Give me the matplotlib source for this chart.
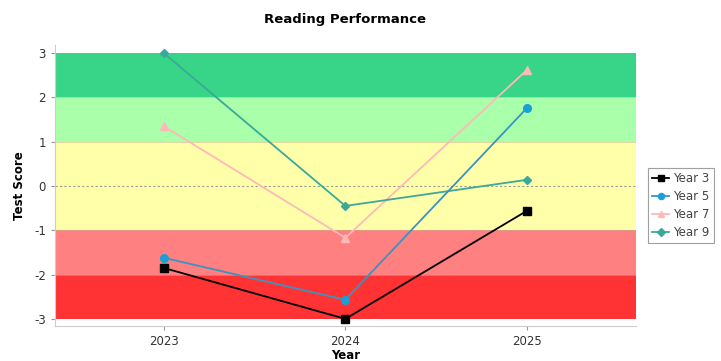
import matplotlib.pyplot as plt
import numpy as np

plt.rcParams["axes.unicode_minus"] = False

years = ["2023", "2024", "2025"]
year3 = [-1.85, -3.0, -0.56]
year5 = [-1.62, -2.57, 1.76]
year7 = [1.35, -1.17, 2.62]
year9 = [3.0, -0.45, 0.14]

# performance bands (low, high, colour)
bands = [(2, 3, "#38d487"), (1, 2, "#aaffaa"), (-1, 1, "#ffffaa"),
         (-2, -1, "#ff8080"), (-3, -2, "#ff3333")]

fig = plt.figure(figsize=(7.21, 3.61), dpi=100)
ax = fig.add_axes([0.076, 0.097, 0.806, 0.778])

for lo, hi, col in bands:
    ax.axhspan(lo, hi, color=col, lw=0, zorder=0)
for y in [2, 1, -1, -2]:
    ax.axhline(y, color="#c8b090", lw=0.6, alpha=0.6, zorder=0.5)
ax.axhline(0, color="#999999", lw=0.8, ls=(0, (2, 2)), zorder=0.6)

x = np.arange(len(years))
ax.plot(x, year3, color="black", marker="s", ms=5.5, lw=1.3, label="Year 3", zorder=3)
ax.plot(x, year5, color="#3a93c0", marker="o", ms=5.5, mfc="#1a9fd6", mec="#1a9fd6",
        lw=1.3, label="Year 5", zorder=3)
ax.plot(x, year7, color="#ffb8b8", marker="^", ms=5.5, lw=1.3, label="Year 7", zorder=2)
ax.plot(x, year9, color="#3aa99a", marker="D", ms=4.5, lw=1.3, label="Year 9", zorder=2)

ax.set_xlim(-0.6, 2.6)
ax.set_ylim(-3.16, 3.18)
ax.set_xticks(x)
ax.set_xticklabels(years)
ax.set_yticks([-3, -2, -1, 0, 1, 2, 3])
for s in ["top", "right"]:
    ax.spines[s].set_visible(False)
for s in ["left", "bottom"]:
    ax.spines[s].set_color("#cccccc")
ax.tick_params(colors="#999999", labelcolor="#333333", labelsize=8.5, length=3)

ax.set_title("Reading Performance", fontsize=9.5, fontweight="bold", pad=16)
ax.set_xlabel("Year", fontsize=8.5, fontweight="bold", labelpad=1)
ax.set_ylabel("Test Score", fontsize=8.5, fontweight="bold", labelpad=6)

leg = ax.legend(loc="center left", bbox_to_anchor=(1.01, 0.43), fontsize=8.5,
                frameon=True, fancybox=False, handlelength=1.5, handletextpad=0.3,
                borderpad=0.35, labelspacing=0.42, markerscale=0.8)
leg.get_frame().set_edgecolor("#888888")
leg.get_frame().set_linewidth(0.8)
for t in leg.get_texts():
    t.set_color("#444444")

fig.savefig("out.png", dpi=100)
